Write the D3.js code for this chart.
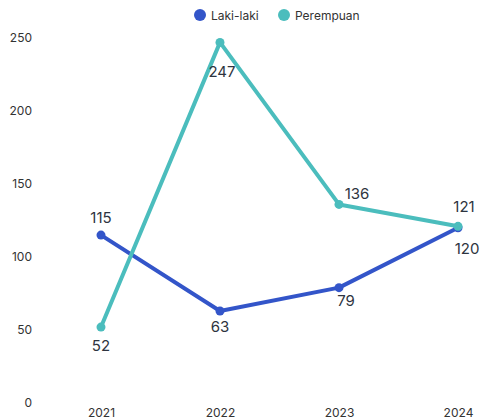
<!DOCTYPE html>
<html><head><meta charset="utf-8">
<script src="https://cdn.jsdelivr.net/npm/d3@7"></script>
<style>body{margin:0;background:#fff}svg{display:block;font-family:Inter,"Noto Sans",sans-serif}</style>
</head><body><svg id="c" width="482" height="419"></svg>
<script>
const years = ["2021","2022","2023","2024"];
const laki = [115, 63, 79, 120];
const perempuan = [52, 247, 136, 121];
const yTicks = [0, 50, 100, 150, 200, 250];
const seriesNames = ["Laki-laki", "Perempuan"];
const colors = ["#3355c9", "#4bbdbd"];
// label placement: dx, dy offsets (style)
const lakiLab = [[0,-12],[0,21],[7,18],[9,26]];
const perLab = [[0,24],[2,35],[18,-5],[6,-14]];

const svg = d3.select("#c");
const x = d3.scalePoint().domain(years).range([101, 458]);
const y = d3.scaleLinear().domain([0, 250]).range([403, 38]);

const yAxis = svg.append("g").attr("transform","translate(32,0)")
  .call(d3.axisLeft(y).tickValues(yTicks).tickSize(0).tickPadding(0));
yAxis.select(".domain").remove();
yAxis.selectAll("text").attr("font-size",12).attr("fill","#333").attr("font-family","Inter,'Noto Sans',sans-serif");

const xAxis = svg.append("g").attr("transform","translate(0,406)")
  .call(d3.axisBottom(x).tickSize(0).tickPadding(2));
xAxis.select(".domain").remove();
xAxis.selectAll("text").attr("font-size",12).attr("fill","#333").attr("font-family","Inter,'Noto Sans',sans-serif");

const data = [laki, perempuan];
const labs = [lakiLab, perLab];
const line = d3.line().x((d,i)=>x(years[i])).y(d=>y(d));
[0,1].forEach(s=>{
  svg.append("path").datum(data[s]).attr("d",line).attr("fill","none")
    .attr("stroke",colors[s]).attr("stroke-width",4).attr("stroke-linejoin","round");
  svg.selectAll(null).data(data[s]).enter().append("circle")
    .attr("cx",(d,i)=>x(years[i])).attr("cy",d=>y(d)).attr("r",4.5).attr("fill",colors[s]);
});
[0,1].forEach(s=>{
  svg.selectAll(null).data(data[s]).enter().append("text")
    .attr("x",(d,i)=>x(years[i])+labs[s][i][0]).attr("y",(d,i)=>y(d)+labs[s][i][1])
    .attr("text-anchor","middle").attr("font-size",15).attr("fill","#2e3440")
    .text(d=>d);
});

// legend
const leg = svg.append("g");
const lx = [200, 284];
seriesNames.forEach((n,i)=>{
  leg.append("circle").attr("cx",lx[i]).attr("cy",15).attr("r",6).attr("fill",colors[i]);
  leg.append("text").attr("x",lx[i]+11).attr("y",19.5).attr("font-size",12).attr("fill","#333").text(n);
});
</script></body></html>
